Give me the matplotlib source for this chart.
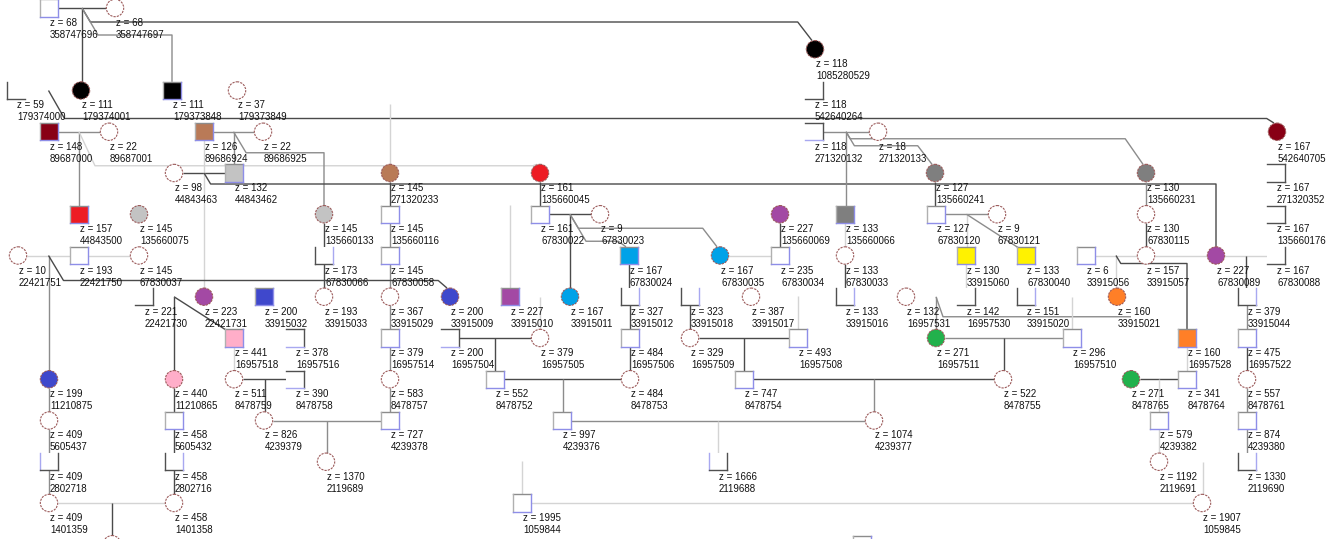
import numpy as np
import matplotlib
matplotlib.use("Agg")
import matplotlib.pyplot as plt
from matplotlib.patches import Circle, Rectangle

# ---------------- data: individuals ----------------
BLK, DRD, BRN, LGR, DGR = "#000000", "#880015", "#B97A57", "#C3C3C3", "#7F7F7F"
RED, PUR, BLU, SKY = "#ED1C24", "#A349A4", "#3F48CC", "#00A2E8"
YEL, ORA, GRN, PNK = "#FFF200", "#FF7F27", "#22B14C", "#FFAEC9"

NODE_ID = [
    358747696, 358747697,
    1085280529,
    179374000, 179374001, 179373848, 179373849, 542640264,
    89687000, 89687001, 89686924, 89686925, 271320132, 271320133, 542640705,
    44843463, 44843462, 271320233, 135660045, 135660241, 135660231, 271320352,
    44843500, 135660075, 135660133, 135660116, 67830022, 67830023, 135660069,
    135660066, 67830120, 67830121, 67830115, 135660176,
    22421751, 22421750, 67830037, 67830066, 67830058, 67830024, 67830035,
    67830034, 67830033, 33915060, 67830040, 33915056, 33915057, 67830089, 67830088,
    22421730, 22421731, 33915032, 33915033, 33915029, 33915009, 33915010,
    33915011, 33915012, 33915018, 33915017, 33915016, 16957531, 16957530,
    33915020, 33915021, 33915044,
    16957518, 16957516, 16957514, 16957504, 16957505, 16957506, 16957509,
    16957508, 16957511, 16957510, 16957528, 16957522,
    11210875, 11210865, 8478759, 8478758, 8478757, 8478752, 8478753, 8478754,
    8478755, 8478765, 8478764, 8478761,
    5605437, 5605432, 4239379, 4239378, 4239376, 4239377, 4239382, 4239380,
    2802718, 2802716, 2119689, 2119688, 2119691, 2119690,
    1401359, 1401358, 1059844, 1059845,
    "cut_f", "cut_m",
]
NODE_Z = [
    68, 68,
    118,
    59, 111, 111, 37, 118,
    148, 22, 126, 22, 118, 18, 167,
    98, 132, 145, 161, 127, 130, 167,
    157, 145, 145, 145, 161, 9, 227, 133, 127, 9, 130, 167,
    10, 193, 145, 173, 145, 167, 167, 235, 133, 130, 133, 6, 157, 227, 167,
    221, 223, 200, 193, 367, 200, 227, 167, 327, 323, 387, 133, 132, 142,
    151, 160, 379,
    441, 378, 379, 200, 379, 484, 329, 493, 271, 296, 160, 475,
    199, 440, 511, 390, 583, 552, 484, 747, 522, 271, 341, 557,
    409, 458, 826, 727, 997, 1074, 579, 874,
    409, 458, 1370, 1666, 1192, 1330,
    409, 458, 1995, 1907,
    None, None,
]
NODE_X = [
    49, 115,
    815,
    16, 81, 172, 237, 814,
    49, 109, 204, 263, 814, 878, 1277,
    174, 234, 390, 540, 935, 1146, 1276,
    79, 139, 324, 390, 540, 600, 780, 845, 936, 997, 1146, 1276,
    18, 79, 139, 324, 390, 629, 720, 780, 845, 966, 1026, 1086, 1146, 1216, 1276,
    144, 204, 264, 324, 390, 450, 510, 570, 630, 690, 751, 845, 906, 966,
    1026, 1117, 1247,
    234, 295, 390, 450, 540, 630, 690, 798, 936, 1072, 1187, 1247,
    49, 174, 234, 295, 390, 495, 630, 744, 1003, 1131, 1187, 1247,
    49, 174, 264, 390, 562, 874, 1159, 1247,
    49, 174, 326, 718, 1159, 1247,
    49, 174, 522, 1202,
    112, 862,
]
NODE_ROW = (
    [0] * 2 + [1] + [2] * 5 + [3] * 7 + [4] * 7 + [5] * 12 + [6] * 15
    + [7] * 17 + [8] * 12 + [9] * 12 + [10] * 8 + [11] * 6 + [12] * 4 + [13] * 2
)
NODE_SEX = list(
    "MF" "F" "MFMFM" "MFMFMFF" "FMFFFFM" "MFFMMFFMMFFM" "FMFMMMFMFMMMFFM"
    "MFMFFFMFMMFMFMMFM" "MMMMFMFMFMMM" "FFFMFMFMFFMF" "FMFMMFMM" "MMFMFM" "FFMF" "FM"
)
NODE_FILL = [
    None, None,
    BLK,
    None, BLK, BLK, None, None,
    DRD, None, BRN, None, None, None, DRD,
    None, LGR, BRN, RED, DGR, DGR, None,
    RED, LGR, LGR, None, None, None, PUR, DGR, None, None, None, None,
    None, None, None, None, None, SKY, SKY, None, None, YEL, YEL, None, None, PUR, None,
    None, PUR, BLU, None, None, BLU, PUR, SKY, None, None, None, None, None, None,
    None, ORA, None,
    PNK, None, None, None, None, None, None, None, GRN, None, ORA, None,
    BLU, PNK, None, None, None, None, None, None, None, GRN, None, None,
    None, None, None, None, None, None, None, None,
    None, None, None, None, None, None,
    None, None, None, None,
    None, None,
]
# squares drawn with only some sides (upper case = dark side, lower case = pale side)
SQUARE_SIDES = {
    179374000: "LB", 542640264: "RB", 271320132: "TRb", 271320352: "TRB",
    135660176: "TRB", 67830088: "RB", 22421730: "RB", 33915012: "LBr",
    33915018: "LBr", 33915016: "LBr", 16957530: "RB", 33915020: "LBr",
    33915044: "LBr", 67830066: "LBr", 16957516: "TRb", 16957504: "TRb",
    8478758: "TRb", 2802718: "lBR", 2802716: "LBr", 2119688: "lBR", 2119690: "LBr",
}

# ---------------- data: relations ----------------
MARRIAGES = [
    (358747696, 358747697, "d"), (89687000, 89687001, "m"), (89686924, 89686925, "m"),
    (271320132, 271320133, "m"), (44843463, 44843462, "d"), (67830022, 67830023, "d"),
    (67830120, 67830121, "m"), (22421751, 22421750, "l"), (22421750, 67830037, "l"),
    (67830035, 67830034, "l"), (33915056, 33915057, "l"), (33915057, 67830089, "l"),
    (67830089, 67830088, "l"), (16957504, 16957505, "d"), (16957509, 16957508, "d"),
    (16957511, 16957510, "m"), (8478759, 8478758, "d"), (8478752, 8478753, "d"),
    (8478754, 8478755, "d"), (8478765, 8478764, "d"), (4239379, 4239378, "m"),
    (4239376, 4239377, "m"), (1401359, 1401358, "l"), (1059844, 1059845, "l"),
]
# (parents, child, drop below parent row in px / None / "diag" / ("open", px), tone)
TOP = (358747696, 358747697)
DESCENTS = [
    (TOP, 179374001, None, "d"), (TOP, 1085280529, 14, "d"), (TOP, 179373848, 27, "m"),
    ((179374000, 179374001), 542640705, 28, "d"),
    ((89687000, 89687001), 44843500, None, "m"),
    ((89687000, 89687001), 135660045, 34, "l"),
    ((89686924, 89686925), 135660133, 21, "m"),
    ((89686924, 89686925), 44843462, None, "m"),
    ((89686924,), 22421731, None, "l"),
    ((44843463, 44843462), 67830089, 11, "d"),
    ((271320132, 271320133), 135660066, None, "m"),
    ((271320132, 271320133), 135660241, 14, "m"),
    ((271320132, 271320133), 135660231, 7, "m"),
    ((135660241,), 67830120, None, "d"),
    ((67830120, 67830121), 33915060, None, "l"),
    ((67830120, 67830121), 67830040, "diag", "m"),
    ((33915060,), 16957530, None, "l"),
    ((135660231,), 67830115, None, "m"), ((67830115,), 33915057, None, "d"),
    ((33915056, 33915057), 33915021, None, "l"),
    ((33915056, 33915057), 16957528, 8, "d"),
    ((67830089, 67830088), 33915044, None, "d"),
    ((33915044,), 16957522, None, "m"), ((16957522,), 8478761, None, "d"),
    ((8478761,), 4239380, None, "m"), ((4239380,), 2119690, None, "m"),
    ((135660045,), 67830022, None, "d"),
    ((67830022, 67830023), 33915011, None, "d"),
    ((67830022, 67830023), 67830024, 27, "m"),
    ((67830022, 67830023), 67830035, 14, "m"),
    ((67830024,), 33915012, None, "d"), ((33915012,), 16957506, None, "d"),
    ((16957506,), 8478753, None, "d"),
    ((135660069,), 67830034, None, "d"),
    ((135660066,), 67830033, None, "l"), ((67830033,), 33915016, None, "d"),
    ((271320233,), 135660116, None, "d"), ((135660116,), 67830058, None, "m"),
    ((67830058,), 33915029, None, "m"), ((33915029,), 16957514, None, "m"),
    ((16957514,), 8478757, None, "m"), ((8478757,), 4239378, None, "m"),
    ((135660133,), 67830066, None, "d"), ((67830066,), 33915033, None, "d"),
    ((22421751, 22421750), 11210875, None, "m"),
    ((22421751, 22421750), 33915009, 25, "d"),
    ((22421730, 22421731), 11210865, None, "d"),
    ((22421730, 22421731), 16957518, "diag", "d"),
    ((16957518,), 8478759, None, "l"),
    ((8478759, 8478758), 4239379, None, "d"),
    ((4239379, 4239378), 2119689, None, "m"),
    ((11210875,), 5605437, None, "m"), ((5605437,), 2802718, None, "m"),
    ((2802718,), 1401359, None, "m"),
    ((11210865,), 5605432, None, "d"), ((5605432,), 2802716, None, "d"),
    ((2802716,), 1401358, None, "d"),
    ((1401359, 1401358), "cut_f", None, "d"),
    ((16957504, 16957505), 8478752, None, "d"),
    ((33915010, 33915011), 16957505, None, "l"),
    ((8478752, 8478753), 4239376, None, "m"),
    ((4239376, 4239377), 2119688, None, "l"),
    ((33915018,), 16957509, None, "d"),
    ((16957509, 16957508), 8478754, None, "d"),
    ((8478754, 8478755), 4239377, None, "m"),
    ((16957531, 16957530), 16957511, None, "m"),
    ((16957531, 16957530), 8478765, ("open", 20), "m"),
    ((33915020, 33915021), 16957510, None, "l"),
    ((16957511, 16957510), 8478755, None, "d"),
    ((8478765, 8478764), 4239382, None, "l"),
    ((4239382,), 2119691, None, "l"),
    ((16957528,), 8478764, None, "l"),
    ((2119691, 2119690), 1059845, None, "l"),
]
# dangling lines above a node: (node, length in px)
STUBS = [(271320233, 60), (33915010, 83), (16957508, 33), (1059844, 33)]

# ---------------- layout constants ----------------
ROW0, ROW_STEP = 8.0, 41.25
HALF = 8.7
TONES = {"d": "#4a4a4a", "m": "#8c8c8c", "l": "#d4d4d4"}
FONT = dict(fontsize=7.0, family="Liberation Sans", color="#111111",
            va="center", ha="left", zorder=5)

pos = {k: (x, ROW0 + ROW_STEP * r) for k, x, r in zip(NODE_ID, NODE_X, NODE_ROW)}
sex = dict(zip(NODE_ID, NODE_SEX))

fig = plt.figure(figsize=(13.36, 5.39), dpi=100)
ax = fig.add_axes([0, 0, 1, 1])
ax.set_xlim(0, 1336)
ax.set_ylim(539, 0)
ax.axis("off")


def line(pts, tone, z=1):
    xs, ys = zip(*pts)
    ax.plot(xs, ys, color=TONES[tone], lw=1.0, solid_capstyle="butt", zorder=z)


for a, b, tone in MARRIAGES:
    (xa, y), (xb, _) = pos[a], pos[b]
    if xa > xb:
        xa, xb = xb, xa
    line([(xa + HALF, y), (xb - HALF, y)], tone)

for parents, child, drop, tone in DESCENTS:
    px = np.mean([pos[p][0] for p in parents])
    py = pos[parents[0]][1]
    if len(parents) == 1:
        py += HALF
    cx, cy = pos[child]
    top = cy - HALF
    s = np.sign(cx - px)
    if drop is None:
        line([(px, py), (px, top)], tone)
    elif drop == "diag":
        line([(px, py), (cx - s * 6, top + 2)], tone)
    elif isinstance(drop, tuple):
        by = py + drop[1]
        line([(px, py), (px + s * 7, by), (cx, by)], tone)
    else:
        by = py + drop
        kick = min(0.6 * drop, 16)
        pts = [(px, py), (px + s * kick, by)]
        if top - by > 30:
            pts += [(cx, by), (cx, top)]
        else:
            pts += [(cx - s * (0.5 * (top - by) + 8), by), (cx - s * 3, top)]
        line(pts, tone)

for k, length in STUBS:
    x, y = pos[k]
    line([(x, y - HALF - length), (x, y - HALF)], "l")

# ---------------- nodes ----------------
for k, z, fill in zip(NODE_ID, NODE_Z, NODE_FILL):
    x, y = pos[k]
    fc = fill if fill else "white"
    if sex[k] == "F":
        ax.add_patch(Circle((x, y), HALF, facecolor=fc, edgecolor="#9b5a5a",
                            lw=0.8, ls=(0, (2, 1)), zorder=3))
    else:
        sides = SQUARE_SIDES.get(k)
        ax.add_patch(Rectangle((x - HALF, y - HALF), 2 * HALF, 2 * HALF,
                               facecolor=fc, edgecolor="none", zorder=3))
        seg = {"t": [(x - HALF, y - HALF), (x + HALF, y - HALF)],
               "b": [(x - HALF, y + HALF), (x + HALF, y + HALF)],
               "l": [(x - HALF, y - HALF), (x - HALF, y + HALF)],
               "r": [(x + HALF, y - HALF), (x + HALF, y + HALF)]}
        if sides is None:
            specs = [("t", "#8c8c8c"), ("l", "#b0b0b0"), ("r", "#8e8ee8"), ("b", "#8e8ee8")]
        else:
            specs = [(c.lower(), "#505050" if c.isupper() else "#a8a8f0") for c in sides]
        for side, col in specs:
            xs, ys = zip(*seg[side])
            ax.plot(xs, ys, color=col, lw=1.0, zorder=4)
    if z is not None:
        ax.text(x + 1, y + 15, f"z = {z}", **FONT)
        ax.text(x + 1, y + 27, f"{k}", **FONT)

fig.savefig("out.png", dpi=100)
